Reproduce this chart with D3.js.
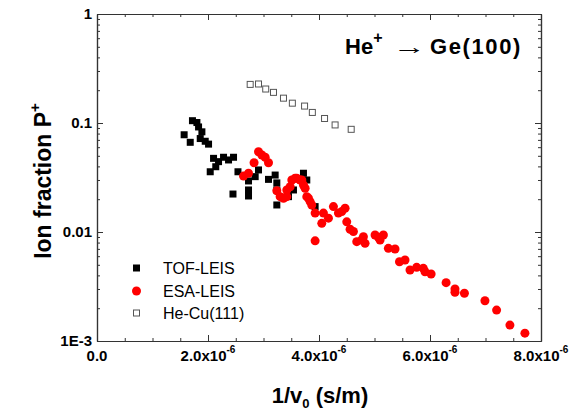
<!DOCTYPE html>
<html>
<head>
<meta charset="utf-8">
<script src="https://cdn.jsdelivr.net/npm/d3@7"></script>
<style>
  body { margin: 0; background: #fff; }
  text { font-family: Arial, "Liberation Sans", sans-serif; }
</style>
</head>
<body>
<div id="chart"></div>
<script>
// x values are in units of 1e-6 s/m
var tofX = [1.72, 1.80, 1.83, 1.89, 1.57, 1.68, 1.86, 1.95, 2.01, 2.10, 2.19, 2.28, 2.37, 2.46, 2.14, 2.04, 2.54, 2.45,
            2.73, 2.73, 2.73, 2.85, 2.91, 3.09, 3.21, 3.24, 3.24, 3.24, 3.45, 3.54, 3.72, 3.78, 3.93];
var tofY = [0.105, 0.101, 0.092, 0.083, 0.078, 0.0665, 0.072, 0.068, 0.064, 0.0474, 0.0442, 0.0485, 0.0458, 0.0485, 0.0397, 0.0357, 0.0357, 0.0223,
            0.0294, 0.0243, 0.0214, 0.0322, 0.0371, 0.0304, 0.0333, 0.0282, 0.0243, 0.0177, 0.0211, 0.0243, 0.0346, 0.030, 0.0171];

var esaX = [2.64, 2.73, 2.83, 2.91, 2.97, 3.03, 3.09, 3.24, 3.30, 3.36, 3.42, 3.42, 3.48, 3.51, 3.57, 3.60, 3.66, 3.69,
            3.72, 3.75, 3.78, 3.81, 3.84, 3.87, 3.93, 3.93, 4.08, 4.05, 4.17, 4.26, 4.35, 4.41, 4.47, 4.50, 4.56, 4.62,
            4.68, 4.77, 4.80, 4.83, 5.01, 5.07, 5.10, 5.16, 5.25, 5.37, 5.45, 5.55, 5.64, 5.76, 5.88, 5.91, 6.02, 6.29,
            6.45, 6.45, 6.62, 6.99, 7.20, 7.44, 7.71];
var esaY = [0.0326, 0.0346, 0.0432, 0.0545, 0.0509, 0.0485, 0.0432, 0.0239, 0.0211, 0.0204, 0.0211, 0.0243, 0.0260, 0.030, 0.0311, 0.0311, 0.030, 0.030,
            0.0270, 0.0252, 0.0211, 0.0204, 0.0190, 0.0177, 0.0149, 0.0083, 0.0149, 0.0120, 0.0134, 0.0171, 0.0149, 0.0154, 0.0165, 0.0124, 0.0106, 0.0101,
            0.00815, 0.00845, 0.00906, 0.00787, 0.00938, 0.00893, 0.00845, 0.00938, 0.00708, 0.00698, 0.00534, 0.00553, 0.00448, 0.00474, 0.00464, 0.00432, 0.00412, 0.00343,
            0.0030, 0.0028, 0.00274, 0.00234, 0.00192, 0.00140, 0.00118];

var cuX = [2.76, 2.91, 3.04, 3.18, 3.36, 3.52, 3.74, 3.88, 4.10, 4.29, 4.58];
var cuY = [0.226, 0.228, 0.205, 0.191, 0.169, 0.152, 0.143, 0.125, 0.110, 0.096, 0.0875];

var xMajor = [0, 2, 4, 6, 8];
var yMajor = [1e-3, 0.01, 0.1, 1];
var yLabels = ["1E-3", "0.01", "0.1", "1"];
var legendNames = ["TOF-LEIS", "ESA-LEIS", "He-Cu(111)"];

var W = 583, H = 414;
var mLeft = 97, mRight = 541, mTop = 14, mBottom = 341;
var axisColor = "#333";

var svg = d3.select("#chart").append("svg").attr("width", W).attr("height", H);

var x = d3.scaleLinear().domain([0, 8]).range([mLeft, mRight]);
var y = d3.scaleLog().domain([1e-3, 1]).range([mBottom, mTop]);

// minor tick positions
var xMinor = d3.range(0, 8.01, 0.5).filter(d => xMajor.indexOf(d) == -1);
var yMinor = [];
[1e-3, 1e-2, 1e-1].forEach(function(dec){
    for(var k = 2; k <= 9; k++){ yMinor.push(dec * k); }
});

function styleAxis(g){
    g.selectAll("path").attr("stroke", axisColor).attr("stroke-width", 1.2);
    g.selectAll("line").attr("stroke", axisColor).attr("stroke-width", 1);
    g.selectAll("text").remove();
}

// bottom / top axes
svg.append("g").attr("transform", "translate(0," + mBottom + ")")
    .call(d3.axisBottom(x).tickValues(xMajor).tickSizeInner(-6).tickSizeOuter(0)).call(styleAxis);
svg.append("g").attr("transform", "translate(0," + mBottom + ")")
    .call(d3.axisBottom(x).tickValues(xMinor).tickSizeInner(-3).tickSizeOuter(0)).call(styleAxis);
svg.append("g").attr("transform", "translate(0," + mTop + ")")
    .call(d3.axisTop(x).tickValues(xMajor).tickSizeInner(-6).tickSizeOuter(0)).call(styleAxis);
svg.append("g").attr("transform", "translate(0," + mTop + ")")
    .call(d3.axisTop(x).tickValues(xMinor).tickSizeInner(-3).tickSizeOuter(0)).call(styleAxis);

// left / right axes
svg.append("g").attr("transform", "translate(" + mLeft + ",0)")
    .call(d3.axisLeft(y).tickValues(yMajor).tickSizeInner(-6).tickSizeOuter(0)).call(styleAxis);
svg.append("g").attr("transform", "translate(" + mLeft + ",0)")
    .call(d3.axisLeft(y).tickValues(yMinor).tickSizeInner(-3).tickSizeOuter(0)).call(styleAxis);
svg.append("g").attr("transform", "translate(" + mRight + ",0)")
    .call(d3.axisRight(y).tickValues(yMajor).tickSizeInner(-6).tickSizeOuter(0)).call(styleAxis);
svg.append("g").attr("transform", "translate(" + mRight + ",0)")
    .call(d3.axisRight(y).tickValues(yMinor).tickSizeInner(-3).tickSizeOuter(0)).call(styleAxis);

// x tick labels with superscript exponent
xMajor.forEach(function(v){
    var t = svg.append("text").attr("x", x(v)).attr("y", mBottom + 20)
        .attr("text-anchor", "middle").attr("font-size", 15).attr("font-weight", "bold").attr("fill", "#000");
    if(v == 0){
        t.text("0.0");
    }else{
        t.append("tspan").text(v.toFixed(1) + "x10");
        t.append("tspan").attr("dy", -8).attr("font-size", 10).text("-6");
    }
});

// y tick labels
yMajor.forEach(function(v, i){
    svg.append("text").attr("x", mLeft - 5).attr("y", y(v) + 5)
        .attr("text-anchor", "end").attr("font-size", 15).attr("font-weight", "bold").attr("fill", "#000")
        .text(yLabels[i]);
});

// axis titles
var xt = svg.append("text").attr("x", 320).attr("y", 403).attr("text-anchor", "middle")
    .attr("font-size", 22).attr("font-weight", "bold");
xt.append("tspan").text("1/v");
xt.append("tspan").attr("font-size", 13).attr("dy", 5).text("0");
xt.append("tspan").attr("dy", -5).text(" (s/m)");

var yt = svg.append("text").attr("transform", "translate(51," + 181 + ") rotate(-90)")
    .attr("text-anchor", "middle").attr("font-size", 23).attr("font-weight", "bold");
yt.append("tspan").text("Ion fraction P");
yt.append("tspan").attr("font-size", 15).attr("dy", -11).text("+");

// annotation
var ann = svg.append("text").attr("x", 345).attr("y", 54).attr("font-size", 22).attr("font-weight", "bold");
ann.append("tspan").text("He");
ann.append("tspan").attr("font-size", 16).attr("dy", -11).text("+");
ann.append("tspan").attr("x", 430).attr("dy", 11).attr("letter-spacing", 1.6).text("Ge(100)");
// stretched thin arrow
svg.append("text").attr("transform", "translate(393,54) scale(1.5,1)")
    .attr("font-size", 22).text("\u2192");

// data marks
var tof = tofX.map((d, i) => ({x: d, y: tofY[i]}));
var esa = esaX.map((d, i) => ({x: d, y: esaY[i]}));
var cu = cuX.map((d, i) => ({x: d, y: cuY[i]}));

svg.append("g").selectAll("rect").data(cu).enter().append("rect")
    .attr("x", d => x(d.x) - 3).attr("y", d => y(d.y) - 3)
    .attr("width", 6).attr("height", 6)
    .attr("fill", "#fff").attr("stroke", "#555").attr("stroke-width", 1);

svg.append("g").selectAll("rect").data(tof).enter().append("rect")
    .attr("x", d => x(d.x) - 3.5).attr("y", d => y(d.y) - 3.5)
    .attr("width", 7).attr("height", 7).attr("fill", "#000");

svg.append("g").selectAll("circle").data(esa).enter().append("circle")
    .attr("cx", d => x(d.x)).attr("cy", d => y(d.y)).attr("r", 4.5)
    .attr("fill", "#f00");

// legend
var legY = [268, 291, 313];
legendNames.forEach(function(name, i){
    var cy = legY[i];
    if(i == 0){
        svg.append("rect").attr("x", 133).attr("y", cy - 3.5).attr("width", 7).attr("height", 7).attr("fill", "#000");
    }else if(i == 1){
        svg.append("circle").attr("cx", 136.5).attr("cy", cy).attr("r", 4.5).attr("fill", "#f00");
    }else{
        svg.append("rect").attr("x", 133.5).attr("y", cy - 3).attr("width", 6).attr("height", 6)
            .attr("fill", "#fff").attr("stroke", "#555").attr("stroke-width", 1);
    }
    svg.append("text").attr("x", 163).attr("y", cy + 6).attr("font-size", 16).text(name);
});
</script>
</body>
</html>
